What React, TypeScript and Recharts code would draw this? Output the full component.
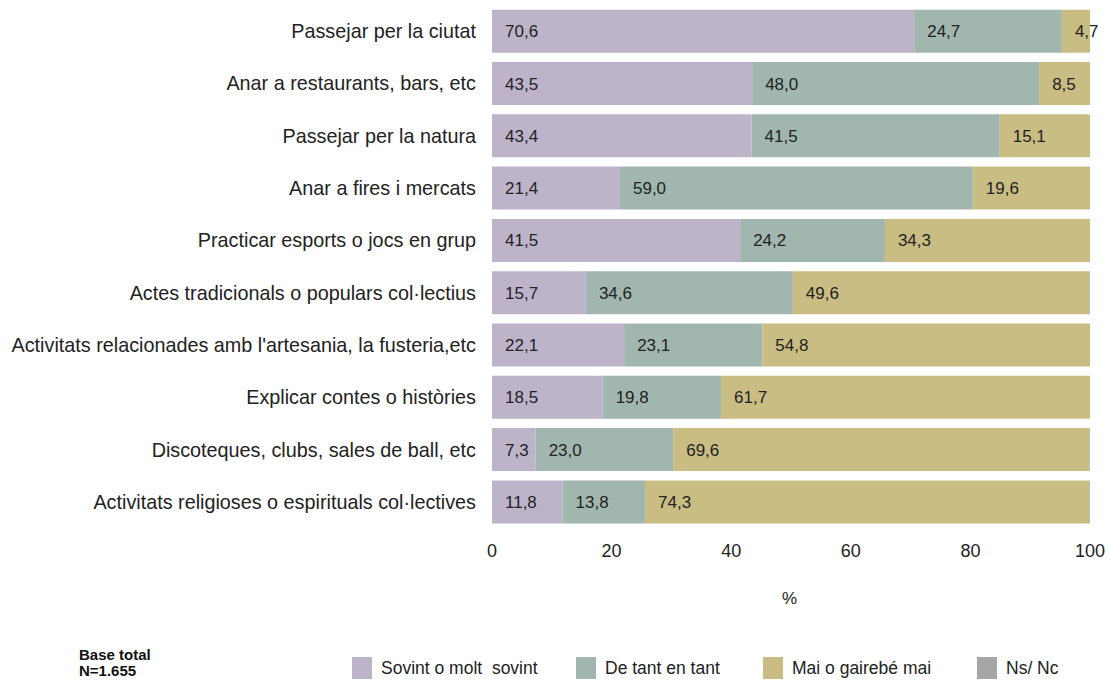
import React from 'react';
import { BarChart, Bar, XAxis, YAxis, LabelList } from 'recharts';

const categories = [
  'Passejar per la ciutat',
  'Anar a restaurants, bars, etc',
  'Passejar per la natura',
  'Anar a fires i mercats',
  'Practicar esports o jocs en grup',
  'Actes tradicionals o populars col·lectius',
  "Activitats relacionades amb l'artesania, la fusteria,etc",
  'Explicar contes o històries',
  'Discoteques, clubs, sales de ball, etc',
  'Activitats religioses o espirituals col·lectives',
];
const sovint = [70.6, 43.5, 43.4, 21.4, 41.5, 15.7, 22.1, 18.5, 7.3, 11.8];
const deTant = [24.7, 48.0, 41.5, 59.0, 24.2, 34.6, 23.1, 19.8, 23.0, 13.8];
const mai = [4.7, 8.5, 15.1, 19.6, 34.3, 49.6, 54.8, 61.7, 69.6, 74.3];
const nsnc = [0, 0, 0.2, 0.2, 0.2, 0.2, 0.2, 0.2, 0.2, 0.2];
const xTicks = [0, 20, 40, 60, 80, 100];

const seriesNames = ['Sovint o molt  sovint', 'De tant en tant', 'Mai o gairebé mai', 'Ns/ Nc'];
const colors = ['#BDB4CA', '#A0B6AE', '#C9BD83', '#A6A6A6'];
const keys = ['sovint', 'deTant', 'mai', 'nsnc'];

const data = categories.map((c, i) => ({
  name: c,
  sovint: sovint[i],
  deTant: deTant[i],
  mai: mai[i],
  nsnc: nsnc[i],
}));

const fmt = (v: any) => Number(v).toFixed(1).replace('.', ',');
const FONT = '"Liberation Sans", Arial, sans-serif';

const legendX = [352, 576, 763, 977];

export default function App() {
  return (
    <div style={{ position: 'absolute', left: 0, top: 0, width: 1110, height: 681, overflow: 'hidden', background: '#fff', fontFamily: FONT }}>
      <BarChart
        width={1110}
        height={681}
        data={data}
        layout="vertical"
        margin={{ top: 5, right: 20, bottom: 123, left: 0 }}
        barCategoryGap="9%"
      >
        <XAxis
          type="number"
          domain={[0, 100]}
          ticks={xTicks}
          allowDataOverflow
          axisLine={false}
          tickLine={false}
          tickMargin={10}
          height={30}
          tick={{ fontSize: 18, fill: '#222', fontFamily: FONT }}
        />
        <YAxis
          type="category"
          dataKey="name"
          width={492}
          axisLine={false}
          tickLine={false}
          tickSize={0}
          tickMargin={16}
          interval={0}
          tick={{ fontSize: 19.8, fill: '#222', fontFamily: FONT }}
        />
        {keys.map((k, i) => (
          <Bar key={k} dataKey={k} stackId="a" fill={colors[i]} isAnimationActive={false}>
            {i < 3 && (
              <LabelList
                dataKey={k}
                position="insideLeft"
                offset={13}
                formatter={fmt}
                style={{ fontSize: 17, fill: '#222', fontFamily: FONT }}
              />
            )}
          </Bar>
        ))}
      </BarChart>
      <div style={{ position: 'absolute', left: 782, top: 589, fontSize: 17, color: '#222' }}>%</div>
      <div style={{ position: 'absolute', left: 79, top: 647, fontSize: 15, fontWeight: 'bold', color: '#111', lineHeight: '16px' }}>
        Base total
        <br />
        N=1.655
      </div>
      {seriesNames.map((n, i) => (
        <div key={n} style={{ position: 'absolute', left: legendX[i], top: 657, display: 'flex', alignItems: 'center' }}>
          <div style={{ width: 20, height: 22, background: colors[i] }} />
          <span style={{ marginLeft: 9, fontSize: 17.5, color: '#222', whiteSpace: 'pre' }}>{n}</span>
        </div>
      ))}
    </div>
  );
}
